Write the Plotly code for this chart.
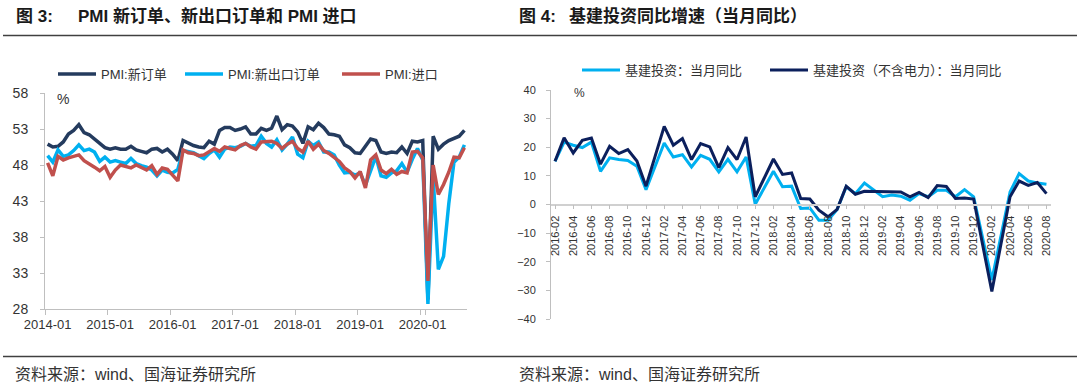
import plotly.graph_objects as go

# ---------------- data: left panel (PMI, monthly 2014-01 .. 2020-09) ----------------
pmi_months = [f"{y}-{m:02d}" for y in range(2014, 2021) for m in range(1, 13)][:81]

pmi_new_orders = [
    50.9, 50.5, 50.6, 51.2, 52.3, 52.8, 53.6, 52.5, 52.2, 51.6, 50.9, 50.4,
    50.2, 50.4, 50.2, 50.2, 50.6, 50.1, 49.9, 49.7, 50.2, 50.3, 49.8, 50.2,
    49.5, 48.6, 51.4, 51.0, 50.7, 50.5, 50.4, 51.3, 50.9, 52.8, 53.2, 53.2,
    52.8, 53.0, 53.3, 52.3, 52.3, 53.1, 52.8, 53.1, 54.8, 52.9, 53.6, 53.4,
    52.6, 51.0, 53.3, 52.9, 53.8, 53.2, 52.3, 52.2, 52.0, 50.8, 50.4, 49.7,
    49.6, 50.6, 51.6, 51.4, 49.8, 49.6, 49.8, 49.7, 50.5, 49.6, 51.3, 51.2,
    51.4, 29.3, 52.0, 50.2, 50.9, 51.4, 51.7, 52.0, 52.8,
]
pmi_export_orders = [
    49.3, 48.4, 50.1, 49.2, 49.4, 50.0, 50.8, 50.0, 50.2, 49.8, 48.5, 49.1,
    48.4, 48.6, 48.4, 48.2, 48.9, 48.2, 47.9, 47.7, 47.3, 46.5, 47.3, 47.0,
    46.9, 47.4, 50.0, 49.9, 49.7, 49.3, 48.9, 49.6, 50.1, 49.1, 50.2, 50.5,
    50.4, 50.6, 51.0, 50.6, 50.7, 52.0, 51.0, 50.5, 51.5, 50.1, 50.9, 51.9,
    49.5, 49.0, 51.3, 50.7, 51.2, 49.8, 49.8, 49.4, 48.0, 46.9, 47.0, 46.6,
    46.9, 45.2, 47.1, 49.2, 46.5, 46.3, 46.9, 47.2, 48.2, 47.0, 48.8, 50.3,
    48.7, 28.7, 46.4, 33.5, 35.3, 42.6, 48.4, 49.1, 50.8,
]
pmi_imports = [
    48.3, 46.5, 49.2, 48.7, 49.0, 49.2, 49.4, 48.6, 48.2, 47.7, 47.2, 47.8,
    46.3, 47.3, 48.0, 47.8, 47.6, 48.0, 47.6, 47.3, 47.9, 46.7, 47.6, 47.4,
    46.6, 45.8, 50.1, 49.7, 49.6, 49.3, 49.4, 49.8, 50.3, 49.9, 50.5, 50.3,
    50.1, 50.7, 51.0, 50.5, 50.2, 51.2, 51.3, 51.3, 51.0, 50.3, 50.9, 51.3,
    50.3, 49.8, 51.3, 50.2, 50.9, 50.0, 49.6, 49.1, 48.5, 47.6, 47.1, 46.2,
    47.1, 44.8, 48.7, 49.4, 47.3, 46.8, 47.4, 46.7, 47.1, 46.9, 49.8, 49.9,
    49.0, 31.9, 48.0, 43.9, 45.3, 47.0, 49.1, 49.0, 50.4,
]
pmi_tick_labels = ["2014-01", "2015-01", "2016-01", "2017-01", "2018-01", "2019-01", "2020-01"]
pmi_y_ticks = [28, 33, 38, 43, 48, 53, 58]

# ---------------- data: right panel (infrastructure investment YoY, 2016-02 .. 2020-08) ----------------
infra_months = [f"{y}-{m:02d}" for y in range(2016, 2021) for m in range(1, 13)][1:56]

infra_total = [
    15.1, 21.8, 20.7, 19.9, 21.8, 11.6, 16.3, 15.7, 15.4, 13.4, 5.2,
    None,
    21.5, 16.6, 17.4, 13.1, 17.2, 15.8, 11.4, 15.8, 11.4, 16.6, 0.1,
    None,
    11.6, 6.2, 6.4, -1.4, -1.2, -5.5, -5.5, -1.7, 6.2, 3.8, 7.5,
    None,
    2.7, 3.3, 2.9, 1.5, 3.8, 2.7, 5.0, 5.0, 2.7, 5.2, 2.7,
    None,
    -26.4, -11.0, 4.4, 10.8, 8.2, 7.5, 7.1,
]
infra_ex_power = [
    15.1, 23.3, 18.0, 22.4, 23.2, 14.1, 20.3, 17.8, 19.2, 15.2, 6.4,
    None,
    27.3, 20.7, 23.0, 15.7, 21.3, 20.1, 12.9, 19.9, 15.7, 23.6, 2.7,
    None,
    15.9, 10.5, 11.0, 2.1, 1.9, -2.0, -4.3, -1.7, 6.4, 3.6, 4.6,
    None,
    4.4, 4.4, 4.4, 2.7, 4.2, 2.4, 6.6, 6.3, 2.1, 2.3, 1.9,
    None,
    -30.4, -14.0, 2.7, 8.2, 6.7, 7.7, 3.8,
]
infra_tick_labels = infra_months[::2]
infra_y_ticks = [-40, -30, -20, -10, 0, 10, 20, 30, 40]

# ---------------- styling ----------------
W, H = 1080, 387
FONT = "Liberation Sans, Arial, Noto Sans CJK SC"
TXT = "#333333"
AXC = "#BFBFBF"


def px(x):
    return x / W


def py(y):
    return 1 - y / H


fig = go.Figure()

left_series = [
    ("PMI:新订单", pmi_new_orders, "#243B5E", "legend"),
    ("PMI:新出口订单", pmi_export_orders, "#00B0F0", "legend2"),
    ("PMI:进口", pmi_imports, "#C0504D", "legend3"),
]
for name, vals, col, lg in left_series:
    fig.add_trace(go.Scatter(
        x=pmi_months, y=vals, name=name, mode="lines",
        line=dict(color=col, width=3.5), xaxis="x", yaxis="y", legend=lg,
    ))

right_series = [
    ("基建投资：当月同比", infra_total, "#00B0F0", "legend4"),
    ("基建投资（不含电力）：当月同比", infra_ex_power, "#0B1F5C", "legend5"),
]
for name, vals, col, lg in right_series:
    fig.add_trace(go.Scatter(
        x=infra_months, y=vals, name=name, mode="lines", connectgaps=True,
        line=dict(color=col, width=3), xaxis="x2", yaxis="y2", legend=lg,
    ))

# plot area geometry (pixels)
L_x0, L_x1, L_ytop, L_ybot = 45, 467, 93, 309
R_x0, R_x1, R_ytop, R_ybot = 550, 1051, 90, 319
r_dom_y = [py(R_ybot), py(R_ytop)]
r_zero = (r_dom_y[0] + r_dom_y[1]) / 2

legend_common = dict(orientation="h", bgcolor="rgba(0,0,0,0)", borderwidth=0,
                     font=dict(family=FONT, size=13, color=TXT), itemwidth=38,
                     xanchor="left", yanchor="middle")

fig.update_layout(
    width=W, height=H,
    margin=dict(l=0, r=0, t=0, b=0, autoexpand=False),
    paper_bgcolor="white", plot_bgcolor="white",
    font=dict(family=FONT, color=TXT),
    xaxis=dict(
        domain=[px(L_x0), px(L_x1)], anchor="y", type="category",
        range=[-0.5, len(pmi_months) - 0.5],
        tickmode="array", tickvals=pmi_tick_labels, ticktext=pmi_tick_labels,
        tickangle=0, tickson="boundaries", ticks="outside", ticklen=5, tickcolor=AXC,
        showline=True, linecolor=AXC, linewidth=1, showgrid=False, automargin=False,
        tickfont=dict(family=FONT, size=13, color=TXT), ticklabelstandoff=3,
    ),
    yaxis=dict(
        domain=[py(L_ybot), py(L_ytop)], anchor="x", range=[28, 58],
        tickmode="array", tickvals=pmi_y_ticks,
        ticks="outside", ticklen=4, tickcolor=AXC, automargin=False,
        showline=True, linecolor=AXC, linewidth=1, showgrid=False, zeroline=False,
        tickfont=dict(family=FONT, size=14, color=TXT), ticklabelstandoff=9,
    ),
    xaxis2=dict(
        domain=[px(R_x0), px(R_x1)], anchor="free", position=r_zero, type="category",
        range=[-0.55, len(infra_months) - 0.5],
        tickmode="array", tickvals=infra_tick_labels, ticktext=infra_tick_labels,
        tickangle=-90, ticks="outside", ticklen=4, tickcolor=AXC, automargin=False,
        showline=True, linecolor="#D0D0D0", linewidth=1.5, showgrid=False,
        tickfont=dict(family=FONT, size=11, color=TXT), ticklabelstandoff=2,
    ),
    yaxis2=dict(
        domain=r_dom_y, anchor="free", position=px(R_x0), range=[-40, 40],
        tickmode="array", tickvals=infra_y_ticks,
        ticks="outside", ticklen=4, tickcolor=AXC, automargin=False,
        showline=True, linecolor=AXC, linewidth=1, showgrid=False, zeroline=False,
        tickfont=dict(family=FONT, size=11, color=TXT), ticklabelstandoff=8,
    ),
    legend=dict(x=px(53), y=py(74), **legend_common),
    legend2=dict(x=px(180), y=py(74), **legend_common),
    legend3=dict(x=px(337), y=py(74), **legend_common),
    legend4=dict(x=px(577), y=py(70), **legend_common),
    legend5=dict(x=px(765), y=py(70), **legend_common),
    showlegend=True,
)

# titles, units, source notes
title_font = dict(family=FONT, size=17, color="#1A1A1A")
notes = [
    (14, 16.5, "<b>图 3:</b>", title_font),
    (76, 16.5, "<b>PMI 新订单、新出口订单和 PMI 进口</b>", title_font),
    (517, 16.5, "<b>图 4:</b>", title_font),
    (567, 16.5, "<b>基建投资同比增速（当月同比）</b>", title_font),
    (55, 99, "%", dict(family=FONT, size=14, color=TXT)),
    (572, 93, "%", dict(family=FONT, size=12, color=TXT)),
    (13, 374, "资料来源：wind、国海证券研究所", dict(family=FONT, size=16, color=TXT)),
    (517, 374, "资料来源：wind、国海证券研究所", dict(family=FONT, size=16, color=TXT)),
]
for x, y, t, f in notes:
    fig.add_annotation(x=px(x), y=py(y), xref="paper", yref="paper", text=t,
                       showarrow=False, xanchor="left", yanchor="middle", font=f)

for yy in (35.5, 356.5):
    fig.add_shape(type="line", xref="paper", yref="paper",
                  x0=px(3), x1=px(1077), y0=py(yy), y1=py(yy),
                  line=dict(color="#404040", width=1.5))

fig.write_html(
    "out.html",
    config={"displayModeBar": False},
    post_script="document.body.style.margin='0';document.body.style.padding='0';"
                "document.body.style.overflow='hidden';",
)
